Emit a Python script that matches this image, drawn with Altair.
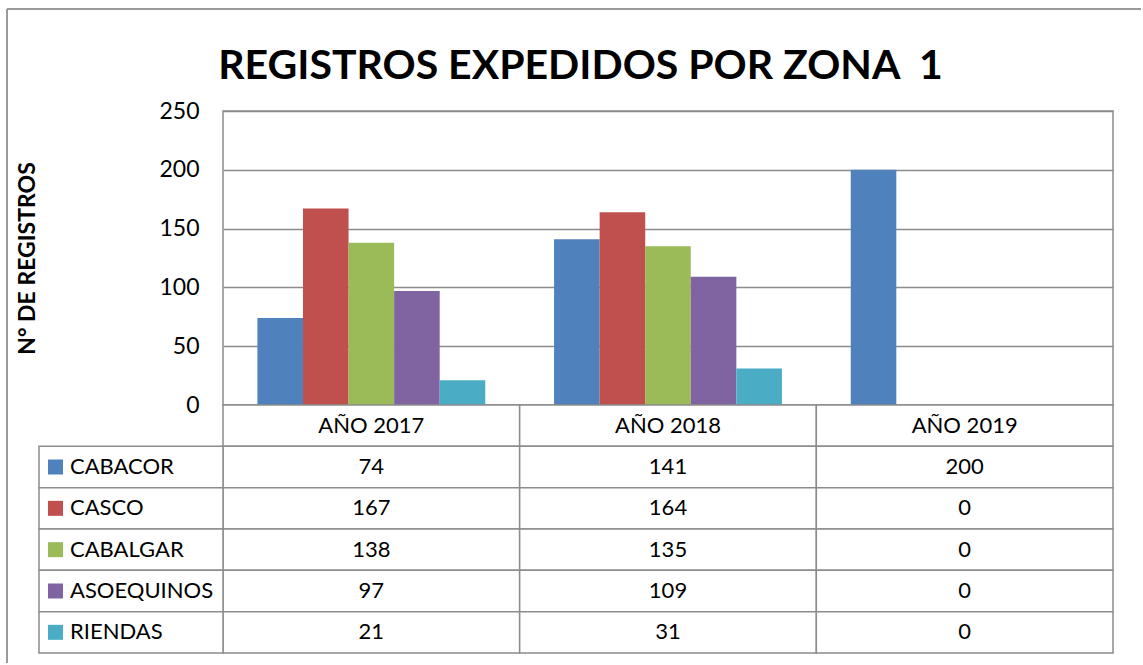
import altair as alt
import pandas as pd

# ---- data ----
years = ["AÑO 2017", "AÑO 2018", "AÑO 2019"]
series = ["CABACOR", "CASCO", "CABALGAR", "ASOEQUINOS", "RIENDAS"]
cabacor = [74, 141, 200]
casco = [167, 164, 0]
cabalgar = [138, 135, 0]
asoequinos = [97, 109, 0]
riendas = [21, 31, 0]
colors = ["#4F81BD", "#C0504D", "#9BBB59", "#8064A2", "#4BACC6"]
y_ticks = [0, 50, 100, 150, 200, 250]

values = [cabacor, casco, cabalgar, asoequinos, riendas]
rows = []
for s, vals in zip(series, values):
    for yr, v in zip(years, vals):
        rows.append({"serie": s, "anio": yr, "valor": v, "fila": s, "texto": str(v)})
df = pd.DataFrame(rows)
header = pd.DataFrame({"anio": years, "fila": ["hdr"] * len(years), "texto": years})
cells = pd.concat([header, df[["anio", "fila", "texto"]]], ignore_index=True)
labels = pd.DataFrame({"serie": series, "fila": series})
one = pd.DataFrame({"k": [0]})

GRAY = "#8C8C8C"
FONT = "Lato"

x_scale = alt.Scale(domain=years, paddingInner=0, paddingOuter=0)
color_scale = alt.Scale(domain=series, range=colors)
row_domain = ["hdr"] + series


def table_y():
    return alt.Y("fila:N", scale=alt.Scale(domain=row_domain, range=[294, 542],
                                           paddingInner=0, paddingOuter=0), axis=None)


bars = alt.Chart(df).mark_bar().encode(
    x=alt.X("anio:N", scale=x_scale, axis=None),
    xOffset=alt.XOffset("serie:N", scale=alt.Scale(domain=series, paddingInner=0, paddingOuter=0.755)),
    y=alt.Y("valor:Q", scale=alt.Scale(domain=[0, 250], nice=False),
            axis=alt.Axis(values=y_ticks, title="N° DE REGISTROS", ticks=False, domain=False,
                          labelFont=FONT, labelFontSize=23, labelColor="black", labelPadding=24,
                          titleFont=FONT, titleFontSize=23, titleFontWeight="bold", titleColor="black",
                          titleX=-196, titleY=147, titleBaseline="middle",
                          gridColor=GRAY, gridWidth=1.5)),
    color=alt.Color("serie:N", scale=color_scale, legend=None),
)

cell_rect = alt.Chart(cells).mark_rect(fill="white", stroke=GRAY, strokeWidth=1.5).encode(
    x=alt.X("anio:N", scale=x_scale, axis=None),
    y=table_y(),
)
cell_text = alt.Chart(cells).mark_text(font=FONT, fontSize=22, color="black").encode(
    x=alt.X("anio:N", scale=x_scale, axis=None),
    y=table_y(),
    text="texto:N",
)
label_rect = alt.Chart(labels).mark_rect(fill="white", stroke=GRAY, strokeWidth=1.5).encode(
    x=alt.value(-184), x2=alt.value(0), y=table_y(),
)
label_sq = alt.Chart(labels).mark_square(size=225, opacity=1, filled=True).encode(
    x=alt.value(-167.5), y=table_y(),
    color=alt.Color("serie:N", scale=color_scale, legend=None),
)
label_text = alt.Chart(labels).mark_text(align="left", font=FONT, fontSize=22, color="black").encode(
    x=alt.value(-153), y=table_y(), text="serie:N",
)

frame_v = alt.Chart(one).mark_rule(color="#9A9A9A", strokeWidth=2).encode(
    x=alt.value(-216), y=alt.value(-102), y2=alt.value(552))
frame_h = alt.Chart(one).mark_rule(color="#9A9A9A", strokeWidth=2).encode(
    x=alt.value(-216), x2=alt.value(918), y=alt.value(-102))

chart = alt.layer(
    frame_v, frame_h, bars, cell_rect, cell_text, label_rect, label_sq, label_text
).resolve_scale(y="independent").properties(
    width=890, height=294,
    padding={"left": 6, "top": 8, "right": 0, "bottom": 0},
    background="white",
    title=alt.Title("REGISTROS EXPEDIDOS POR ZONA\u00a0 1", font=FONT, fontSize=41,
                    fontWeight="bold", color="black", anchor="middle", frame="bounds",
                    offset=-112, baseline="alphabetic", dx=6.5),
).configure_view(stroke=GRAY, strokeWidth=1.5)

chart.save("out.html", embed_options={"renderer": "svg", "actions": False})
